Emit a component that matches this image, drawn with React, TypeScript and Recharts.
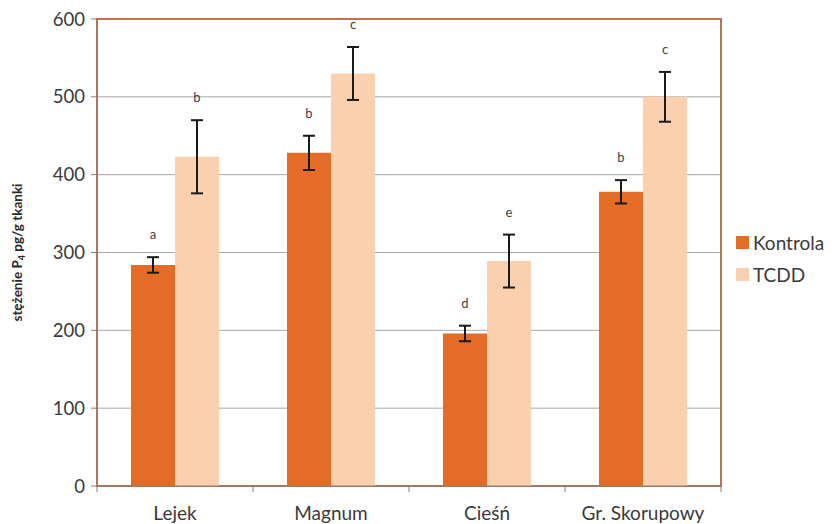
import React from "react";
import {
  Bar,
  BarChart,
  CartesianGrid,
  ErrorBar,
  LabelList,
  Legend,
  ReferenceArea,
  XAxis,
  YAxis,
} from "recharts";

const categories = ["Lejek", "Magnum", "Cieśń", "Gr. Skorupowy"];
const kontrola = [284, 428, 196, 378];
const kontrolaErr = [10, 22, 10, 15];
const tcdd = [423, 530, 289, 500];
const tcddErr = [47, 34, 34, 32];
const kontrolaLetters = ["a", "b", "d", "b"];
const tcddLetters = ["b", "c", "e", "c"];
const yTicks = [0, 100, 200, 300, 400, 500, 600];

const data = categories.map((name, i) => ({
  name,
  kontrola: kontrola[i],
  kontrolaErr: kontrolaErr[i],
  tcdd: tcdd[i],
  tcddErr: tcddErr[i],
  kLetter: kontrolaLetters[i],
  tLetter: tcddLetters[i],
}));

const ORANGE = "#E36C26";
const PEACH = "#FAD0AE";
const FONT = "Lato, 'Open Sans', sans-serif";

const W = 835;
const H = 524;
const M = { top: 19, right: 114, left: 0, bottom: 0 };
const Y_W = 97;
const BAND = (W - M.right - Y_W) / categories.length;

function XTick(props: any) {
  const { x, y, payload, index } = props;
  const last = index === categories.length - 1;
  return (
    <g>
      <line x1={x - BAND / 2} x2={x - BAND / 2} y1={y} y2={y + 6} stroke="#8E7C72" />
      {last && <line x1={x + BAND / 2} x2={x + BAND / 2} y1={y} y2={y + 6} stroke="#8E7C72" />}
      <text x={x} y={y + 34} textAnchor="middle" fontSize={19} fill="#3A3A3A" fontFamily={FONT}>
        {payload.value}
      </text>
    </g>
  );
}

function letterLabel(values: number[], errs: number[]) {
  return (props: any) => {
    const { x, y, width, height, value, index } = props;
    const pxPer = height / values[index];
    const top = y - errs[index] * pxPer;
    return (
      <text
        x={x + width / 2}
        y={top - 18}
        textAnchor="middle"
        fontSize={13}
        fill="#404040"
        fontFamily={FONT}
      >
        {value}
      </text>
    );
  };
}

function YLabel(props: any) {
  const vb = props.viewBox || {};
  const cy = (vb.y ?? 19) + (vb.height ?? 467) / 2;
  const cx = 22;
  return (
    <text
      x={cx}
      y={cy}
      transform={`rotate(-90 ${cx} ${cy})`}
      textAnchor="middle"
      fontSize={13.5}
      fontWeight="bold"
      fill="#2A2A2A"
      fontFamily={FONT}
    >
      stężenie P
      <tspan fontSize={9} dy={3}>4</tspan>
      <tspan dy={-3}> pg/g  tkanki</tspan>
    </text>
  );
}

function LegendBox() {
  const items = [
    { label: "Kontrola", color: ORANGE },
    { label: "TCDD", color: PEACH },
  ];
  return (
    <div style={{ fontFamily: FONT }}>
      {items.map((it) => (
        <div
          key={it.label}
          style={{ display: "flex", alignItems: "center", height: 32, fontSize: 19, color: "#3A3A3A" }}
        >
          <span style={{ width: 13, height: 13, background: it.color, marginRight: 4 }} />
          {it.label}
        </div>
      ))}
    </div>
  );
}

export default function App() {
  return (
    <div style={{ position: "absolute", left: 0, top: 0, width: W, height: H, background: "#fff" }}>
      <BarChart width={W} height={H} data={data} margin={M} barGap={0}>
        <CartesianGrid vertical={false} stroke="#A8A8A8" horizontalValues={[100, 200, 300, 400, 500]} />
        <ReferenceArea y1={0} y2={600} fill="none" stroke="#B87752" strokeWidth={2} />
        <XAxis
          dataKey="name"
          height={38}
          tickLine={false}
          tickSize={0}
          tickMargin={0}
          interval={0}
          axisLine={{ stroke: "#8E7C72" }}
          tick={<XTick />}
        />
        <YAxis
          width={Y_W}
          domain={[0, 600]}
          ticks={yTicks}
          interval={0}
          tickSize={6}
          tickMargin={6}
          tickLine={{ stroke: "#8E7C72" }}
          axisLine={{ stroke: "#A0786A" }}
          tick={{ fontSize: 18.5, fill: "#3A3A3A", fontFamily: FONT }}
          label={<YLabel />}
        />
        <Legend
          layout="vertical"
          align="center"
          verticalAlign="middle"
          content={<LegendBox />}
          wrapperStyle={{ left: 736, top: 226, width: 100 }}
        />
        <Bar dataKey="kontrola" name="Kontrola" fill={ORANGE} barSize={44} isAnimationActive={false}>
          <ErrorBar dataKey="kontrolaErr" width={6} stroke="#1A1A1A" strokeWidth={2} />
          <LabelList dataKey="kLetter" content={letterLabel(kontrola, kontrolaErr)} />
        </Bar>
        <Bar dataKey="tcdd" name="TCDD" fill={PEACH} barSize={44} isAnimationActive={false}>
          <ErrorBar dataKey="tcddErr" width={6} stroke="#1A1A1A" strokeWidth={2} />
          <LabelList dataKey="tLetter" content={letterLabel(tcdd, tcddErr)} />
        </Bar>
      </BarChart>
    </div>
  );
}
